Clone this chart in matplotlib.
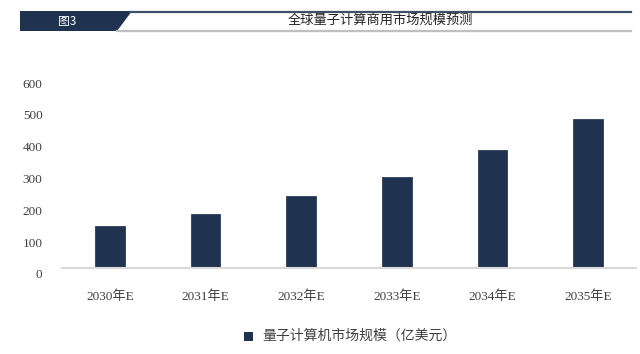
import matplotlib
matplotlib.use("Agg")
import matplotlib.pyplot as plt
from matplotlib.patches import Polygon, Rectangle
from matplotlib.lines import Line2D
from matplotlib.transforms import ScaledTranslation

plt.rcParams["font.family"] = ["Liberation Serif", "Noto Sans CJK SC"]

categories = ["2030年E", "2031年E", "2032年E", "2033年E", "2034年E", "2035年E"]
values = [132, 170, 226, 286, 371, 468]
series_name = "量子计算机市场规模（亿美元）"
title = "全球量子计算商用市场规模预测"
fig_label = "图3"

W, H = 640, 354
NAVY = "#1f3250"
TEXT = "#404040"


def fx(px):
    return px / W


def fy(py):
    return 1 - py / H


fig = plt.figure(figsize=(6.4, 3.54), dpi=100)

# header bar
fig.patches.append(Polygon([(fx(20), fy(11)), (fx(132), fy(11)), (fx(117), fy(31)), (fx(20), fy(31))],
                           closed=True, transform=fig.transFigure, facecolor=NAVY, edgecolor="none"))
fig.lines.append(Line2D([fx(130), fx(631)], [fy(12), fy(12)], transform=fig.transFigure,
                        color="#3d4f6b", linewidth=1.6))
fig.lines.append(Line2D([fx(117), fx(631)], [fy(31), fy(31)], transform=fig.transFigure,
                        color="#bfbfbf", linewidth=1.6))
fig.text(fx(67), fy(21), fig_label, color="white", fontsize=8.5, ha="center", va="center",
         family=["Noto Sans CJK SC", "DejaVu Sans"])
fig.text(fx(380), fy(20), title, color="#222222", fontsize=9.5, ha="center", va="center",
         family=["Noto Sans CJK SC", "DejaVu Sans"])

ax = fig.add_axes([fx(62), fy(268), fx(636) - fx(62), fy(77) - fy(268)])
x = range(len(categories))
ax.bar(x, values, width=0.31, color=NAVY, edgecolor="#2e3f5c", linewidth=0.6, zorder=2)
ax.set_xlim(-0.5, len(categories) - 0.5)
ax.set_ylim(0, 600)
ax.set_yticks(range(0, 601, 100))
ax.set_xticks(list(x))
ax.set_xticklabels(categories)
for s in ["top", "right", "left"]:
    ax.spines[s].set_visible(False)
ax.spines["bottom"].set_color("#d9d9d9")
ax.spines["bottom"].set_linewidth(1.5)
ax.tick_params(axis="both", length=0, colors=TEXT, labelsize=9.5)
ax.tick_params(axis="y", pad=14)
ax.tick_params(axis="x", pad=16)
shift = ScaledTranslation(0, -6 / 100, fig.dpi_scale_trans)
for lab in ax.get_yticklabels():
    lab.set_transform(lab.get_transform() + shift)

# legend
fig.patches.append(Rectangle((fx(244), fy(341)), fx(9), fy(332) - fy(341), transform=fig.transFigure,
                             facecolor=NAVY, edgecolor="none"))
fig.text(fx(262), fy(336), series_name, color=TEXT, fontsize=10, ha="left", va="center",
         family=["Noto Sans CJK SC", "DejaVu Sans"])

fig.savefig("out.png", dpi=100)
